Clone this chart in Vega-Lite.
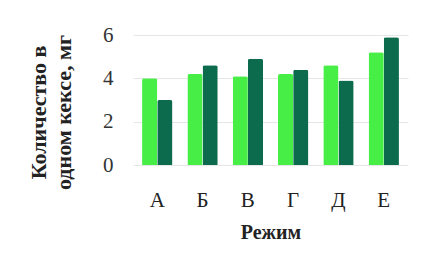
{
  "$schema": "https://vega.github.io/schema/vega-lite/v6.json",
  "autosize": "none",
  "width": 275,
  "height": 130,
  "padding": {"left": 133, "top": 35, "right": 31, "bottom": 100},
  "background": "white",
  "config": {"view": {"stroke": null}, "font": "Liberation Serif"},
  "data": {"values": [
    {"mode": "А", "series": "1", "value": 4.0},
    {"mode": "А", "series": "2", "value": 3.0},
    {"mode": "Б", "series": "1", "value": 4.2},
    {"mode": "Б", "series": "2", "value": 4.6},
    {"mode": "В", "series": "1", "value": 4.1},
    {"mode": "В", "series": "2", "value": 4.9},
    {"mode": "Г", "series": "1", "value": 4.2},
    {"mode": "Г", "series": "2", "value": 4.4},
    {"mode": "Д", "series": "1", "value": 4.6},
    {"mode": "Д", "series": "2", "value": 3.9},
    {"mode": "Е", "series": "1", "value": 5.2},
    {"mode": "Е", "series": "2", "value": 5.9}
  ]},
  "mark": {"type": "bar", "cornerRadiusEnd": 2},
  "encoding": {
    "x": {
      "field": "mode", "type": "nominal", "sort": null,
      "scale": {"paddingInner": 0.33, "paddingOuter": 0.2},
      "axis": {
        "title": "Режим", "labelAngle": 0, "labelFont": "Liberation Serif", "labelFontSize": 21, "labelColor": "#222",
        "labelPadding": 24, "domain": false, "ticks": false,
        "titleFont": "Liberation Serif", "titleFontSize": 20, "titleFontWeight": "bold", "titleColor": "#222", "titlePadding": 12
      }
    },
    "xOffset": {"field": "series", "type": "nominal"},
    "y": {
      "field": "value", "type": "quantitative",
      "scale": {"domain": [0, 6]},
      "axis": {
        "values": [0, 2, 4, 6], "labelFont": "Liberation Serif", "labelFontSize": 21, "labelColor": "#333", "labelPadding": 20,
        "domain": false, "ticks": false, "gridColor": "#e6e6e6",
        "title": ["Количество в", "одном кексе, мг"],
        "titleFont": "Liberation Serif", "titleFontSize": 22, "titleFontWeight": "bold", "titleColor": "#222",
        "titleLineHeight": 25, "titleX": -95, "titleY": 77, "titleBaseline": "middle", "titleAlign": "center"
      }
    },
    "color": {
      "field": "series", "type": "nominal",
      "scale": {"range": ["#46ee46", "#0b6b4c"]},
      "legend": null
    }
  }
}
